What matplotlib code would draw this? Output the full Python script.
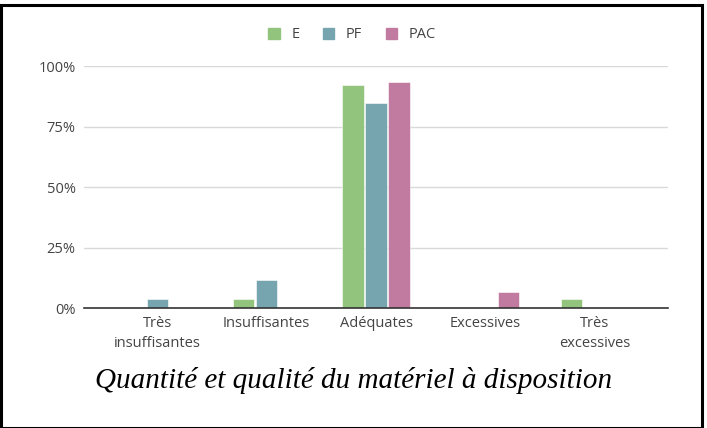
import matplotlib
matplotlib.use("Agg")
import matplotlib.pyplot as plt
from matplotlib.patches import Rectangle, Patch
import numpy as np

categories = ["Très\ninsuffisantes", "Insuffisantes", "Adéquates", "Excessives", "Très\nexcessives"]
series_names = ["E", "PF", "PAC"]
E = [0.0, 3.8, 92.3, 0.0, 3.8]
PF = [3.8, 11.5, 84.6, 0.0, 0.0]
PAC = [0.0, 0.0, 93.3, 6.7, 0.0]
colors = ["#93c47d", "#76a5af", "#c27ba0"]
yticks = [0, 25, 50, 75, 100]
ytick_labels = ["0%", "25%", "50%", "75%", "100%"]
title = "Quantité et qualité du matériel à disposition"

W, H = 707, 428
fig = plt.figure(figsize=(W / 100, H / 100), dpi=100)
ax = fig.add_axes([84 / W, (H - 308) / H, (668 - 84) / W, (308 - 66) / H])

x = np.arange(len(categories))
step = 0.21
width = 0.195
for i, (vals, c) in enumerate(zip([E, PF, PAC], colors)):
    ax.bar(x + (i - 1) * step, vals, width=width, color=c, zorder=3,
           edgecolor="white", linewidth=0.4)

ax.set_xlim(-0.67, 4.67)
ax.set_ylim(0, 100)
ax.set_yticks(yticks)
ax.set_yticklabels(ytick_labels)
ax.set_xticks(x)
ax.set_xticklabels(categories, linespacing=1.4)
for s in ["top", "right", "left"]:
    ax.spines[s].set_visible(False)
ax.spines["bottom"].set_color("#333333")
ax.spines["bottom"].set_linewidth(1.2)
ax.spines["bottom"].set_zorder(4)
ax.grid(axis="y", color="#d9d9d9", linewidth=1, zorder=0)
ax.tick_params(axis="both", length=0, labelsize=10.5, labelcolor="#444444")
ax.tick_params(axis="y", pad=6)
ax.tick_params(axis="x", pad=6)
for lab in ax.get_xticklabels() + ax.get_yticklabels():
    lab.set_fontfamily("Open Sans")

handles = [Patch(facecolor=c, edgecolor=c) for c in colors]
fig.legend(handles, series_names, loc="center", bbox_to_anchor=(352 / W, 1 - 35 / H),
           ncol=3, frameon=False, handlelength=0.8, handleheight=0.8,
           handletextpad=0.8, columnspacing=1.6,
           prop={"family": "Open Sans", "size": 10.5}, labelcolor="#444444")

fig.text(354 / W, 1 - 381 / H, title, ha="center", va="center",
         fontfamily="Liberation Serif", fontstyle="italic", fontsize=21, color="black")

fig.patches.append(Rectangle((1 / W, 0), (702 - 1) / W, 1 - 5 / H, transform=fig.transFigure,
                             fill=False, edgecolor="black", linewidth=2.2))

fig.savefig("out.png", dpi=100)
